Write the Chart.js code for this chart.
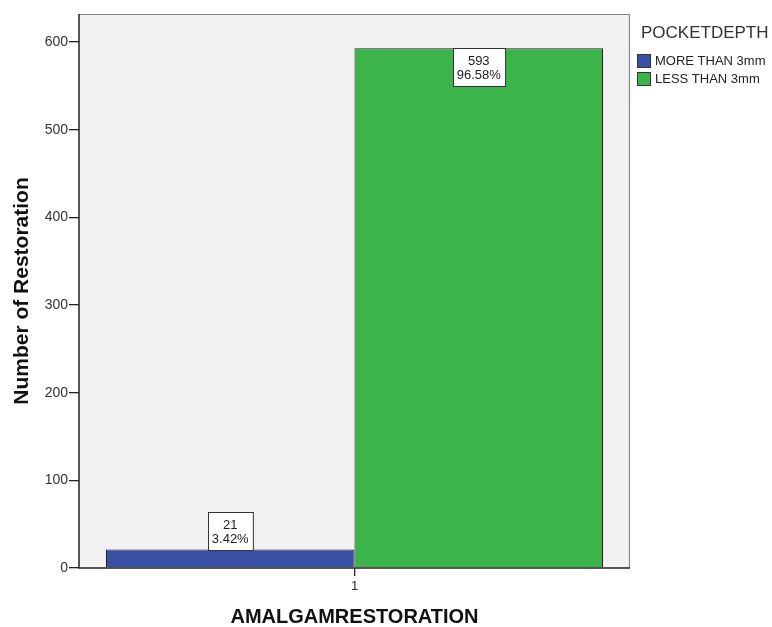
<!DOCTYPE html>
<html>
<head>
<meta charset="utf-8">
<script src="https://cdn.jsdelivr.net/npm/chart.js@4.4.1/dist/chart.umd.min.js"></script>
<style>
  html, body { margin: 0; padding: 0; background: #ffffff; }
  #wrap { width: 772px; height: 627px; position: relative; }
</style>
</head>
<body>
<div id="wrap"><canvas id="c" width="772" height="627"></canvas></div>
<script>
// Chart data
const categories = ['1'];
const seriesNames = ['MORE THAN 3mm', 'LESS THAN 3mm'];
const moreThan3mm = [21];
const lessThan3mm = [593];
const percentLabels = [['3.42%'], ['96.58%']];
const yTicks = [0, 100, 200, 300, 400, 500, 600];

const FONT = '"Liberation Sans", Arial, sans-serif';
const colors = ['#3a52a5', '#3bb54a'];

// Plot background and frame
const framePlugin = {
  id: 'frame',
  beforeDraw(chart) {
    const { ctx, chartArea: a } = chart;
    ctx.save();
    ctx.fillStyle = '#f1f1f1';
    ctx.fillRect(a.left, a.top, a.right - a.left, a.bottom - a.top);
    ctx.strokeStyle = '#8a8a8a';
    ctx.lineWidth = 1.2;
    ctx.beginPath();
    ctx.moveTo(a.left, a.top + 0.5);
    ctx.lineTo(a.right - 0.5, a.top + 0.5);
    ctx.lineTo(a.right - 0.5, a.bottom);
    ctx.stroke();
    ctx.restore();
  },
  afterDatasetsDraw(chart) {
    const { ctx, chartArea: a } = chart;
    ctx.save();
    ctx.strokeStyle = '#222';
    ctx.lineWidth = 1.5;
    ctx.beginPath();
    ctx.moveTo(a.left, a.top);
    ctx.lineTo(a.left, a.bottom);
    ctx.lineTo(a.right, a.bottom);
    ctx.stroke();
    ctx.restore();
  }
};

// Count / percent boxes on each bar
const valueBoxPlugin = {
  id: 'valueBoxes',
  afterDatasetsDraw(chart) {
    const { ctx } = chart;
    ctx.save();
    ctx.font = '13px ' + FONT;
    chart.data.datasets.forEach((ds, di) => {
      const meta = chart.getDatasetMeta(di);
      meta.data.forEach((bar, i) => {
        const lines = [String(ds.data[i]), percentLabels[di][i]];
        const w = Math.max(...lines.map(t => ctx.measureText(t).width)) + 8;
        const lh = 14;
        const h = lines.length * lh + 10;
        const barH = bar.base - bar.y;
        const x0 = Math.round(bar.x - w / 2) + 0.5;
        const y0 = barH > h + 4 ? Math.round(bar.y) + 0.5 : Math.round(bar.y - h) + 0.5;
        ctx.fillStyle = '#ffffff';
        ctx.fillRect(x0, y0, w, h);
        ctx.strokeStyle = '#333';
        ctx.lineWidth = 1;
        ctx.strokeRect(x0, y0, w, h);
        ctx.fillStyle = '#222';
        ctx.textAlign = 'center';
        ctx.textBaseline = 'middle';
        lines.forEach((t, k) => ctx.fillText(t, bar.x, y0 + 5 + lh / 2 + k * lh + 1));
      });
    });
    ctx.restore();
  }
};

// Legend with title at the right
const legendPlugin = {
  id: 'sideLegend',
  afterDraw(chart) {
    const { ctx, chartArea: a } = chart;
    ctx.save();
    const x = a.right + 7;
    ctx.fillStyle = '#333';
    ctx.font = '17px ' + FONT;
    ctx.textAlign = 'left';
    ctx.textBaseline = 'middle';
    ctx.fillText('POCKETDEPTH', x + 4, 33);
    ctx.font = '13px ' + FONT;
    chart.data.datasets.forEach((ds, i) => {
      const y = 61 + i * 18;
      ctx.fillStyle = ds.backgroundColor;
      ctx.fillRect(x + 0.5, y - 6.5, 13, 13);
      ctx.strokeStyle = '#333';
      ctx.lineWidth = 1;
      ctx.strokeRect(x + 0.5, y - 6.5, 13, 13);
      ctx.fillStyle = '#222';
      ctx.fillText(ds.label, x + 18, y);
    });
    ctx.restore();
  }
};

new Chart(document.getElementById('c'), {
  type: 'bar',
  data: {
    labels: categories,
    datasets: [
      { label: seriesNames[0], data: moreThan3mm, backgroundColor: colors[0], borderColor: '#222', borderWidth: 1, borderSkipped: 'bottom' },
      { label: seriesNames[1], data: lessThan3mm, backgroundColor: colors[1], borderColor: '#222', borderWidth: 1, borderSkipped: 'bottom' }
    ]
  },
  options: {
    responsive: false,
    animation: false,
    devicePixelRatio: 1,
    layout: { padding: { left: 0, right: 142, top: 14, bottom: 0 } },
    datasets: { bar: { categoryPercentage: 0.902, barPercentage: 1.0 } },
    plugins: { legend: { display: false }, tooltip: { enabled: false } },
    scales: {
      x: {
        grid: { display: true, offset: false, drawOnChartArea: false, drawTicks: true, tickLength: 8, color: '#222', lineWidth: 1.3 },
        border: { display: false },
        ticks: { color: '#333', font: { family: FONT, size: 13 }, padding: 3 },
        title: { display: true, text: 'AMALGAMRESTORATION', color: '#111', font: { family: FONT, size: 20, weight: 'bold', lineHeight: 1.0 }, padding: { top: 4, bottom: 0 } },
        afterFit(s) { s.height = 59; }
      },
      y: {
        min: 0, max: 632,
        afterBuildTicks(s) { s.ticks = yTicks.map(v => ({ value: v })); },
        grid: { display: true, drawOnChartArea: false, drawTicks: true, tickLength: 10, color: '#222', lineWidth: 1.3 },
        border: { display: false },
        ticks: { color: '#333', font: { family: FONT, size: 14 }, padding: 1 },
        title: { display: true, text: 'Number of Restoration', color: '#111', font: { family: FONT, size: 21, weight: 'bold', lineHeight: 1.0 }, padding: { top: 12, bottom: 4 } },
        afterFit(s) { s.width = 79; }
      }
    }
  },
  plugins: [framePlugin, valueBoxPlugin, legendPlugin]
});
</script>
</body>
</html>
